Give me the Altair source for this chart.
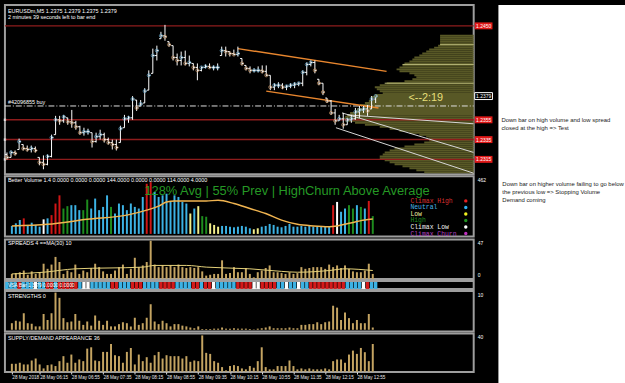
import altair as alt
import pandas as pd

# ---------------- data ----------------
bar_idx = list(range(92))
open_p = [1.2320,1.2317,1.2322,1.2325,1.2330,1.2326,1.2325,1.2326,1.2317,1.2312,
          1.2310,1.2318,1.2340,1.2355,1.2354,1.2357,1.2353,1.2352,1.2348,1.2342,
          1.2343,1.2342,1.2333,1.2338,1.2340,1.2335,1.2332,1.2330,1.2332,1.2347,
          1.2356,1.2357,1.2375,1.2369,1.2372,1.2385,1.2402,1.2420,1.2437,1.2440,
          1.2434,1.2430,1.2418,1.2415,1.2418,1.2412,1.2412,1.2408,1.2405,1.2408,
          1.2409,1.2408,1.2408,1.2420,1.2425,1.2424,1.2422,1.2421,1.2417,1.2410,
          1.2407,1.2405,1.2405,1.2405,1.2404,1.2400,1.2388,1.2390,1.2390,1.2388,
          1.2389,1.2390,1.2391,1.2392,1.2403,1.2411,1.2413,1.2396,1.2392,1.2377,
          1.2374,1.2362,1.2354,1.2356,1.2350,1.2355,1.2356,1.2363,1.2365,1.2366,
          1.2366,1.2376]
high_p = [1.2322,1.2324,1.2324,1.2336,1.2330,1.2329,1.2329,1.2328,1.2317,1.2319,
          1.2320,1.2340,1.2359,1.2359,1.2360,1.2357,1.2365,1.2354,1.2349,1.2347,
          1.2346,1.2342,1.2342,1.2345,1.2342,1.2337,1.2335,1.2335,1.2349,1.2360,
          1.2359,1.2379,1.2375,1.2375,1.2387,1.2405,1.2427,1.2430,1.2444,1.2451,
          1.2434,1.2430,1.2422,1.2424,1.2425,1.2420,1.2412,1.2412,1.2409,1.2411,
          1.2412,1.2410,1.2412,1.2429,1.2429,1.2424,1.2426,1.2429,1.2417,1.2410,
          1.2409,1.2407,1.2409,1.2410,1.2410,1.2400,1.2392,1.2393,1.2392,1.2390,
          1.2392,1.2393,1.2393,1.2405,1.2413,1.2415,1.2415,1.2396,1.2392,1.2377,
          1.2375,1.2366,1.2360,1.2362,1.2357,1.2360,1.2367,1.2369,1.2369,1.2370,
          1.2379,1.2378]
low_p = [1.2315,1.2317,1.2319,1.2325,1.2324,1.2323,1.2322,1.2322,1.2309,1.2305,
         1.2309,1.2317,1.2340,1.2350,1.2352,1.2350,1.2347,1.2345,1.2340,1.2339,
         1.2340,1.2327,1.2332,1.2335,1.2332,1.2330,1.2325,1.2324,1.2332,1.2347,
         1.2352,1.2355,1.2364,1.2369,1.2372,1.2385,1.2402,1.2415,1.2437,1.2435,
         1.2429,1.2415,1.2410,1.2410,1.2410,1.2409,1.2405,1.2395,1.2404,1.2407,
         1.2407,1.2405,1.2405,1.2420,1.2419,1.2419,1.2420,1.2419,1.2410,1.2405,
         1.2402,1.2403,1.2403,1.2402,1.2399,1.2385,1.2385,1.2387,1.2386,1.2385,
         1.2387,1.2387,1.2389,1.2389,1.2400,1.2409,1.2402,1.2390,1.2380,1.2372,
         1.2360,1.2350,1.2354,1.2346,1.2350,1.2352,1.2355,1.2357,1.2362,1.2359,
         1.2366,1.2372]
close_p = [1.2317,1.2322,1.2321,1.2333,1.2326,1.2325,1.2326,1.2324,1.2312,1.2310,
           1.2318,1.2337,1.2355,1.2354,1.2358,1.2353,1.2352,1.2348,1.2342,1.2343,
           1.2343,1.2333,1.2338,1.2340,1.2335,1.2332,1.2330,1.2327,1.2346,1.2356,
           1.2357,1.2376,1.2367,1.2371,1.2384,1.2400,1.2420,1.2425,1.2440,1.2439,
           1.2431,1.2418,1.2415,1.2418,1.2412,1.2413,1.2408,1.2405,1.2408,1.2409,
           1.2408,1.2408,1.2408,1.2425,1.2424,1.2422,1.2421,1.2422,1.2412,1.2407,
           1.2405,1.2405,1.2405,1.2404,1.2400,1.2388,1.2390,1.2390,1.2388,1.2389,
           1.2390,1.2391,1.2392,1.2403,1.2411,1.2413,1.2405,1.2392,1.2383,1.2374,
           1.2362,1.2354,1.2356,1.2350,1.2355,1.2356,1.2363,1.2365,1.2366,1.2364,
           1.2376,1.2379]

volume = [64,85,111,125,72,90,72,58,117,125,
          151,244,310,204,223,231,231,191,191,276,
          204,284,191,217,310,217,164,244,231,191,
          244,217,204,297,403,416,337,297,310,323,
          257,310,297,257,244,164,204,223,143,138,
          85,72,58,64,64,58,53,58,64,58,
          45,37,45,58,64,80,72,58,53,64,
          80,58,58,64,58,64,58,58,58,58,
          58,231,257,178,204,231,204,231,217,204,
          265,143]
vol_class = list("BBBRBBBBWB" "RRRGGBBBGG" "BBBBBGBBBB" "BBBBRRBBBB"
                 "BBBBBYBYGG" "YYYBBBBBBB" "BYYBBBBBBB" "BBBBBBBBBB"
                 "BRWBBGGBGB" "RG")
vol_ma_idx = [0, 9, 19, 29, 34, 37, 39, 41, 49, 52, 56, 60, 64, 68, 72, 76, 80, 82, 85, 89, 91]
vol_ma_val = [64, 77, 117, 151, 191, 223, 257, 265, 265, 270, 244, 204, 164, 111, 77, 64, 58, 64, 85, 111, 119]

spreads = [6,7,8,10,5,9,6,8,18,12,
           17,26,20,6,10,8,17,6,10,8,
           13,18,14,9,6,6,10,14,17,6,
           12,25,14,16,20,45,17,14,16,14,
           16,14,17,14,13,14,13,14,9,4,
           5,6,6,22,6,7,14,8,8,13,
           6,2,8,10,13,16,8,8,7,6,
           8,6,7,14,12,13,14,14,14,12,
           17,14,16,13,16,12,9,8,8,10,
           18,6]
spread_ma_idx = [0, 8, 16, 33, 36, 44, 49, 60, 68, 72, 80, 84, 91]
spread_ma_val = [6, 8, 12, 14, 16, 16, 14, 12, 9, 8, 10, 12, 10]

strip_class = list("BBBRBBBWBB" "RRBRRRRRBW" "WBBBBBRRBB" "BRRRBBBBRR"
                   "RRBBBBRRBR" "RWBBBBBRRR" "RWWRRRRBBW" "BBWBBRRRRR"
                   "RRRRBBBBWR" "BB")

strengths = [1.75,2.4,2.2,4.4,1.75,1.6,0.9,0.9,4.2,2.6,
             4.4,9.9,8.5,3.1,2.0,2.2,4.2,2.4,1.3,2.2,
             1.1,3.8,2.4,1.3,2.4,0.9,0.9,1.5,2.0,1.75,
             0.9,3.2,1.3,1.75,3.2,6.8,2.2,1.5,2.4,1.75,
             0.9,1.5,1.5,1.1,0.9,0.6,0.4,0.9,0.2,0.2,
             0.2,0.3,0.3,0.6,0.3,0.3,0.4,0.3,0.3,0.3,
             0.2,0.1,0.3,0.4,0.6,0.9,0.4,0.4,0.4,0.4,
             0.6,0.4,0.4,1.3,1.3,1.5,1.5,2.0,1.5,2.0,
             2.2,6.4,5.9,2.6,4.6,3.1,1.75,2.6,1.75,1.75,
             4.2,0.6]

supply_demand = [8.4,8.4,9.5,7.7,7.7,11.9,14,7.7,3.5,7,
                 7.7,6,11.2,16.5,9.5,18.2,9.5,13,11.2,24.5,
                 25.9,11.9,11.2,21,21,29.4,17.5,16.5,9.5,21,
                 25.2,7.7,18.2,11.2,15.4,9.5,17.5,21,14,17.5,
                 16.5,16.5,16.5,14,16.5,10.5,11.9,11.2,38.5,20,
                 18.9,11.2,9.5,4.9,1.4,6,7,6,3.5,2.5,
                 6,4.2,11.2,25.9,4.9,2.5,2.5,6,6,6,
                 11.9,6,2.5,3.5,2.5,3.5,2.5,2.5,2.5,3.5,
                 2.5,11.2,13,13,9.5,18.2,22.4,18.9,25.2,20.7,
                 11.2,29.4]

# volume profile (market profile) widths in pixels, bins from 1.2302 upward by 0.0002
profile_start = 1.2302
profile_step = 0.0002
profile_width = [50,58,65,72,80,85,90,95,95,92,
                 90,85,80,70,60,50,45,45,48,55,
                 65,75,85,95,110,120,130,132,130,128,
                 125,120,118,112,115,110,106,100,104,100,
                 92,95,98,100,95,88,70,62,58,60,
                 65,75,78,75,72,70,65,62,60,55,
                 52,48,45,40,36,34,34,34,34,34]
poc_price = [1.2431, 1.2411, 1.2392]
poc_width = [34, 72, 90]

level_price = [1.2450, 1.2355, 1.2335, 1.2315]
buy_price = 1.2369
last_price = 1.2379
price_ticks = [1.2305, 1.2325, 1.2345, 1.2365, 1.2385, 1.2405, 1.2425, 1.2445, 1.2465]

trend_orange = {"upper": [(57, 1.2427), (93.7, 1.2404)],
                "lower": [(64, 1.2384), (91.7, 1.2367)]}
trend_white = {"w1": [(81.2, 1.2347), (115.2, 1.2301)],
               "w2": [(82.7, 1.2362), (115.2, 1.2322)],
               "w3": [(84.0, 1.2360), (115.2, 1.2351)]}

time_ticks = [0, 7, 15, 23, 31, 39, 47, 55, 63, 71, 79, 87]
time_labels = ["28 May 2018", "28 May 06:15", "28 May 06:55", "28 May 07:35",
               "28 May 08:15", "28 May 08:55", "28 May 09:35", "28 May 10:15",
               "28 May 10:55", "28 May 11:35", "28 May 12:15", "28 May 12:55"]

legend_labels = ["Climax High", "Neutral", "Low", "High", "Climax Low", "Climax Churn"]
legend_text_colors = ["#d83030", "#4ab4e8", "#f0f0a0", "#1e8c1e", "#f0f0f0", "#b040c0"]
legend_dot_colors = ["#e82020", "#30b0f0", "#f0f020", "#209020", "#ffffff", "#c030c0"]

notes_1 = ["Down bar  on high volume and low spread", "closed at the high => Test"]
notes_2 = ["Down bar on higher volume failing to go below", "the previous low => Stopping Volume", "  Demand coming"]

vol_palette = {"B": "#3cb2e4", "R": "#d01616", "G": "#1e8c1e", "Y": "#f2ee8a", "W": "#ffffff"}
strip_palette = {"B": "#3cb2e4", "R": "#d41a1a", "W": "#ffffff"}

# ---------------- layout constants ----------------
XMIN, XMAX = -0.5, 115.2
W = 474
PX = W / (XMAX - XMIN)
FONT = "Liberation Sans"
MONO = "Liberation Mono"


def px_to_bar(px):
    return XMIN + px / PX


xs = alt.Scale(domain=[XMIN, XMAX], nice=False, zero=False)
ys_price = alt.Scale(domain=[1.2300, 1.2471], nice=False, zero=False)


def label(text, x, y, color="white", size=5.5, font=FONT, align="left"):
    return alt.Chart(pd.DataFrame({"t": [text]})).mark_text(
        align=align, baseline="middle", color=color, fontSize=size, font=font
    ).encode(x=alt.value(x), y=alt.value(y), text="t:N")


# ---------------- main price panel ----------------
df = pd.DataFrame({"i": bar_idx, "o": open_p, "h": high_p, "l": low_p, "c": close_p})
df["il"] = df["i"] - 0.45
df["ir"] = df["i"] + 0.45
df["dotc"] = ["#6fb4da" if c >= o else "#cf9c6a" for o, c in zip(open_p, close_p)]

prof = pd.DataFrame({"w": profile_width})
prof["p"] = [profile_start + k * profile_step for k in range(len(profile_width))]
prof["p0"] = prof["p"] - profile_step / 2
prof["p1"] = prof["p"] + profile_step / 2
prof["x0"] = XMAX - prof["w"] / PX
prof["x1"] = XMAX

profile = alt.Chart(prof).mark_rect(color="#585826").encode(
    x=alt.X("x0:Q", scale=xs, axis=None), x2="x1:Q",
    y=alt.Y("p0:Q", scale=ys_price, axis=None), y2="p1:Q")

pocdf = pd.DataFrame({"p": poc_price, "w": poc_width})
pocdf["x0"] = XMAX - pocdf["w"] / PX
pocdf["x1"] = XMAX
poc = alt.Chart(pocdf).mark_rule(color="#b8b878", strokeWidth=1).encode(
    x=alt.X("x0:Q", scale=xs, axis=None), x2="x1:Q", y=alt.Y("p:Q", scale=ys_price, axis=None))

lvl = pd.DataFrame({"p": level_price, "x0": XMIN, "x1": XMAX})
levels = alt.Chart(lvl).mark_rule(color="#8e1c1c", strokeWidth=1.5).encode(
    x=alt.X("x0:Q", scale=xs, axis=None), x2="x1:Q", y=alt.Y("p:Q", scale=ys_price, axis=None))
lvl_sq = alt.Chart(lvl.iloc[1:]).mark_square(color="white", size=6).encode(
    x=alt.X("x0:Q", scale=xs, axis=None), y=alt.Y("p:Q", scale=ys_price, axis=None))

buydf = pd.DataFrame({"p": [buy_price], "x0": [XMIN], "x1": [XMAX]})
buyline = alt.Chart(buydf).mark_rule(color="#e0e0e0", strokeWidth=1, strokeDash=[6, 2, 1, 2]).encode(
    x=alt.X("x0:Q", scale=xs, axis=None), x2="x1:Q", y=alt.Y("p:Q", scale=ys_price, axis=None))

orows = [{"g": k, "x": x, "p": p} for k, pts in trend_orange.items() for x, p in pts]
orange = alt.Chart(pd.DataFrame(orows)).mark_line(color="#e8862e", strokeWidth=1.5).encode(
    x=alt.X("x:Q", scale=xs, axis=None), y=alt.Y("p:Q", scale=ys_price, axis=None), detail="g:N")
wrows = [{"g": k, "x": x, "p": p} for k, pts in trend_white.items() for x, p in pts]
whitel = alt.Chart(pd.DataFrame(wrows)).mark_line(color="#d8d8d8", strokeWidth=1, clip=True).encode(
    x=alt.X("x:Q", scale=xs, axis=None), y=alt.Y("p:Q", scale=ys_price, axis=None), detail="g:N")

price_axis = alt.Axis(values=price_ticks, format=".4f", orient="right", labelFontSize=5,
                      labelFont=FONT, labelColor="#e8e8e8", tickColor="#e8e8e8", tickSize=2,
                      domain=False, grid=False, title="", labelPadding=2, minExtent=20, maxExtent=20)
hl = alt.Chart(df).mark_rule(color="white", strokeWidth=1).encode(
    x=alt.X("i:Q", scale=xs, axis=None), y=alt.Y("l:Q", scale=ys_price, axis=price_axis), y2="h:Q")
otick = alt.Chart(df).mark_rule(color="white", strokeWidth=1).encode(
    x=alt.X("il:Q", scale=xs, axis=None), x2="i:Q", y=alt.Y("o:Q", scale=ys_price, axis=None))
ctick = alt.Chart(df).mark_rule(color="white", strokeWidth=1).encode(
    x=alt.X("i:Q", scale=xs, axis=None), x2="ir:Q", y=alt.Y("c:Q", scale=ys_price, axis=None))
dots = alt.Chart(df).mark_point(size=10, strokeWidth=1, filled=False).encode(
    x=alt.X("i:Q", scale=xs, axis=None), y=alt.Y("c:Q", scale=ys_price, axis=None),
    color=alt.Color("dotc:N", scale=None))

boxdf = pd.DataFrame({"p": level_price})
boxdf["x0"] = px_to_bar(W + 1)
boxdf["x1"] = px_to_bar(W + 19)
boxdf["xm"] = px_to_bar(W + 10)
boxdf["p0"] = boxdf["p"] - 0.00035
boxdf["p1"] = boxdf["p"] + 0.00035
boxdf["txt"] = [f"{p:.4f}" for p in level_price]
redbox = alt.Chart(boxdf).mark_rect(color="#e01818").encode(
    x=alt.X("x0:Q", scale=xs, axis=None), x2="x1:Q", y=alt.Y("p0:Q", scale=ys_price, axis=None), y2="p1:Q")
redtxt = alt.Chart(boxdf).mark_text(color="white", fontSize=5, font=FONT).encode(
    x=alt.X("xm:Q", scale=xs, axis=None), y=alt.Y("p:Q", scale=ys_price, axis=None), text="txt:N")

lastdf = pd.DataFrame({"p": [last_price]})
lastdf["x0"] = px_to_bar(W + 1)
lastdf["x1"] = px_to_bar(W + 19)
lastdf["xm"] = px_to_bar(W + 10)
lastdf["p0"] = lastdf["p"] - 0.00035
lastdf["p1"] = lastdf["p"] + 0.00035
lastdf["txt"] = [f"{last_price:.4f}"]
lastbox = alt.Chart(lastdf).mark_rect(fill="black", stroke="white", strokeWidth=1).encode(
    x=alt.X("x0:Q", scale=xs, axis=None), x2="x1:Q", y=alt.Y("p0:Q", scale=ys_price, axis=None), y2="p1:Q")
lasttxt = alt.Chart(lastdf).mark_text(color="white", fontSize=5, font=FONT).encode(
    x=alt.X("xm:Q", scale=xs, axis=None), y=alt.Y("p:Q", scale=ys_price, axis=None), text="txt:N")

main = alt.layer(
    profile, poc, levels, lvl_sq, buyline, orange, whitel, hl, otick, ctick, dots,
    redbox, redtxt, lastbox, lasttxt,
    label("EURUSDm,M5  1.2375 1.2379 1.2375 1.2379", 3, 6),
    label("2 minutes 39 seconds left to bar end", 3, 12),
    label("#42096855 buy", 3, 98),
    label("<--2:19", 408, 94, color="#e6df7a", size=11),
).properties(width=W, height=171)

# ---------------- volume panel ----------------
vdf = pd.DataFrame({"i": bar_idx, "v": volume})
vdf["col"] = [vol_palette[c] for c in vol_class]
vmadf = pd.DataFrame({"i": vol_ma_idx, "v": vol_ma_val})
ys_vol = alt.Scale(domain=[-21, 464], nice=False, zero=False)
vbars = alt.Chart(vdf).mark_bar(size=2).encode(
    x=alt.X("i:Q", scale=xs, axis=None), y=alt.Y("v:Q", scale=ys_vol, axis=None),
    color=alt.Color("col:N", scale=None))
vma = alt.Chart(vmadf).mark_line(color="#f0b450", strokeWidth=1.5, interpolate="monotone").encode(
    x=alt.X("i:Q", scale=xs, axis=None), y=alt.Y("v:Q", scale=ys_vol, axis=None))

vol_layers = [vbars, vma,
              label("Better Volume 1.4 0.0000 0.0000 0.0000 144.0000 0.0000 0.0000 114.0000 4.0000", 3, 4),
              label("128% Avg | 55% Prev | HighChurn Above Average", 141, 15, color="#259925", size=13),
              label("462", W + 4, 4, size=5)]
for k, (lab, tc, dc) in enumerate(zip(legend_labels, legend_text_colors, legend_dot_colors)):
    yy = 25 + k * 6.6
    vol_layers.append(label(lab, 410, yy, color=tc, size=6.5, font=MONO))
    vol_layers.append(alt.Chart(pd.DataFrame({"a": [0]})).mark_circle(color=dc, size=12, opacity=1).encode(
        x=alt.value(466), y=alt.value(yy)))
volp = alt.layer(*vol_layers).properties(width=W, height=61)

# ---------------- spreads panel ----------------
sdf = pd.DataFrame({"i": bar_idx, "s": spreads})
smadf = pd.DataFrame({"i": spread_ma_idx, "s": spread_ma_val})
ys_spr = alt.Scale(domain=[0, 46.5], nice=False, zero=False)
sbars = alt.Chart(sdf).mark_bar(size=2, color="#c4a462").encode(
    x=alt.X("i:Q", scale=xs, axis=None), y=alt.Y("s:Q", scale=ys_spr, axis=None))
sma = alt.Chart(smadf).mark_line(color="#e6d27a", strokeWidth=1, interpolate="monotone").encode(
    x=alt.X("i:Q", scale=xs, axis=None), y=alt.Y("s:Q", scale=ys_spr, axis=None))
sprp = alt.layer(sbars, sma, label("SPREADS 4 ==MA(30) 10", 3, 4),
                 label("47", W + 4, 4, size=5), label("0", W + 4, 36, size=5)).properties(width=W, height=40)

# ---------------- VSA bar strip ----------------
stdf = pd.DataFrame({"i": bar_idx})
stdf["col"] = [strip_palette[c] for c in strip_class]
stdf["il"] = stdf["i"] - 0.42
stdf["ir"] = stdf["i"] + 0.42
strip_rect = alt.Chart(stdf).mark_rect().encode(
    x=alt.X("il:Q", scale=xs, axis=None), x2="ir:Q", y=alt.value(1), y2=alt.value(8),
    color=alt.Color("col:N", scale=None))
stripp = alt.layer(strip_rect, label("VSA Bar 1  3.79 0.0000 0.0000", 3, 4, size=5)).properties(width=W, height=8)

# ---------------- strengths panel ----------------
gdf = pd.DataFrame({"i": bar_idx, "g": strengths})
ys_str = alt.Scale(domain=[-0.45, 10.35], nice=False, zero=False)
gbars = alt.Chart(gdf).mark_bar(size=2, color="#c4a462").encode(
    x=alt.X("i:Q", scale=xs, axis=None), y=alt.Y("g:Q", scale=ys_str, axis=None))
strp = alt.layer(gbars, label("STRENGTHS 0", 3, 5), label("10", W + 4, 4, size=5)).properties(width=W, height=41)

# ---------------- supply / demand panel ----------------
ddf = pd.DataFrame({"i": bar_idx, "d": supply_demand})
ys_sd = alt.Scale(domain=[-0.3, 40.6], nice=False, zero=False)
expr = ""
for t, lab in zip(time_ticks, time_labels):
    expr += f"datum.value == {t} ? '{lab}' : "
expr += "''"
time_axis = alt.Axis(values=time_ticks, labelExpr=expr, labelAlign="left", labelFontSize=4.7,
                     labelFont=FONT, labelColor="#e8e8e8", tickColor="#e8e8e8", tickSize=2,
                     domain=False, grid=False, title="", labelPadding=1, labelOverlap=False,
                     labelFlush=False, labelBound=False)
dbars = alt.Chart(ddf).mark_bar(size=2, color="#c4a462").encode(
    x=alt.X("i:Q", scale=xs, axis=time_axis), y=alt.Y("d:Q", scale=ys_sd, axis=None))
sdp = alt.layer(dbars, label("SUPPLY/DEMAND APPEARANCE 36", 3, 5),
                label("40", W + 4, 4, size=5)).properties(width=W, height=39)

left = alt.vconcat(main, volp, sprp, stripp, strp, sdp, spacing=0)

# ---------------- annotation panel ----------------
ann_layers = [alt.Chart(pd.DataFrame({"a": [0]})).mark_point(opacity=0).encode(x=alt.value(0), y=alt.value(0))]
for k, line in enumerate(notes_1):
    ann_layers.append(label(line, 3, 116 + 8 * k, color="#1a1a1a", size=6))
for k, line in enumerate(notes_2):
    ann_layers.append(label(line, 4, 181 + 8 * k, color="#1a1a1a", size=6))
right = alt.layer(*ann_layers).properties(
    width=128, height=383, view=alt.ViewBackground(fill="white", stroke="white", strokeWidth=0))

chart = alt.hconcat(left, right, spacing=1).configure(
    background="black", padding={"left": 2, "top": 0, "right": 0, "bottom": 0}, font=FONT
).configure_view(fill="black", stroke="#9e9e9e", strokeWidth=2)

chart.save("out.html", embed_options={"renderer": "svg", "actions": False})
